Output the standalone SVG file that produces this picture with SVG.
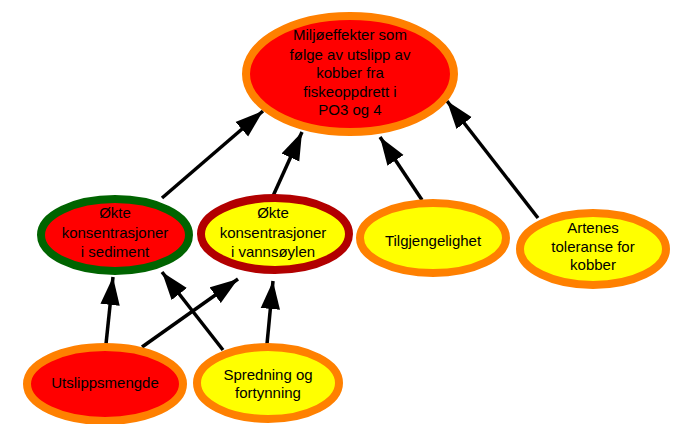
<svg xmlns="http://www.w3.org/2000/svg" width="678" height="424" viewBox="0 0 678 424">
<defs>
<marker id="ah" markerUnits="userSpaceOnUse" markerWidth="28" markerHeight="20" viewBox="0 0 26 18" refX="26" refY="9" orient="auto">
<path d="M0,0 L26,9 L0,18 Z" fill="#000"/>
</marker>
</defs>
<style>
.t{font-family:"Liberation Sans",Arial,sans-serif;font-size:15px;fill:#000;text-anchor:middle}
.c{stroke:#000;stroke-width:3.5;fill:none;marker-end:url(#ah)}
.red{fill:#ff0000}
.yel{fill:#ffff00}
.or{stroke:#ff8000;stroke-width:8}
</style>
<rect width="678" height="424" fill="#fff"/>
<g id="connectors">
<line class="c" x1="162" y1="198" x2="263" y2="111"/>
<line class="c" x1="273" y1="196" x2="302" y2="132"/>
<line class="c" x1="422" y1="200" x2="380" y2="137"/>
<line class="c" x1="538" y1="218" x2="447" y2="101"/>
<line class="c" x1="106" y1="344" x2="113" y2="277"/>
<line class="c" x1="142" y1="347" x2="238" y2="279"/>
<line class="c" x1="223" y1="350" x2="162" y2="272"/>
<line class="c" x1="267" y1="344" x2="273" y2="281"/>
</g>
<g id="top">
<ellipse cx="350" cy="74" rx="104" ry="58" class="red or"/>
<text class="t" x="350" y="40">Miljøeffekter som</text>
<text class="t" x="350" y="60">følge av utslipp av</text>
<text class="t" x="350" y="78">kobber fra</text>
<text class="t" x="350" y="97">fiskeoppdrett i</text>
<text class="t" x="350" y="115">PO3 og 4</text>
</g>
<g id="sediment">
<ellipse cx="115" cy="235" rx="74" ry="36" class="red" stroke="#006400" stroke-width="8"/>
<text class="t" x="115" y="218">Økte</text>
<text class="t" x="115" y="238">konsentrasjoner</text>
<text class="t" x="115" y="257">i sediment</text>
</g>
<g id="vannsoylen">
<ellipse cx="275" cy="234" rx="74" ry="36" class="yel" stroke="#b20000" stroke-width="8"/>
<text class="t" x="273" y="218">Økte</text>
<text class="t" x="273" y="238">konsentrasjoner</text>
<text class="t" x="273" y="257">i vannsøylen</text>
</g>
<g id="tilgjengelighet">
<ellipse cx="433" cy="238" rx="73" ry="35" class="yel or"/>
<text class="t" x="433" y="246">Tilgjengelighet</text>
</g>
<g id="artenes">
<ellipse cx="593" cy="249" rx="73" ry="36" class="yel or"/>
<text class="t" x="593" y="233">Artenes</text>
<text class="t" x="593" y="252">toleranse for</text>
<text class="t" x="593" y="270">kobber</text>
</g>
<g id="utslipp">
<ellipse cx="105" cy="384" rx="78" ry="37" class="red or"/>
<text class="t" x="105" y="388">Utslippsmengde</text>
</g>
<g id="spredning">
<ellipse cx="268" cy="383" rx="71" ry="36" class="yel or"/>
<text class="t" x="268" y="380">Spredning og</text>
<text class="t" x="268" y="398">fortynning</text>
</g>
</svg>
